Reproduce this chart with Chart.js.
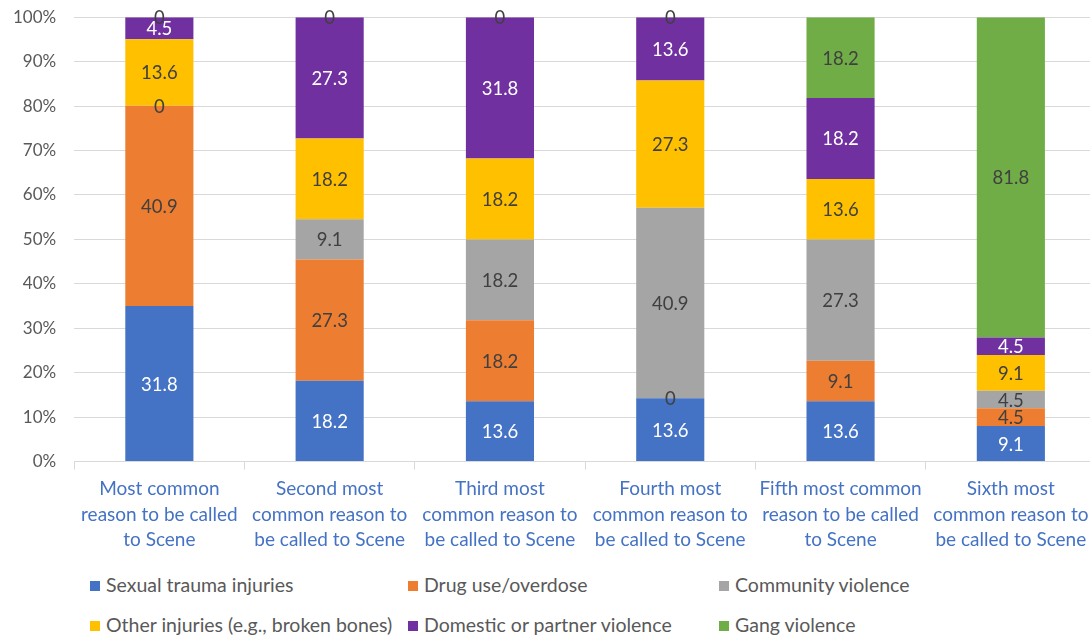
<!DOCTYPE html>
<html>
<head>
<meta charset="utf-8">
<script src="https://cdn.jsdelivr.net/npm/chart.js@4.4.1/dist/chart.umd.min.js"></script>
<style>
  html, body { margin: 0; padding: 0; background: #fff; overflow: hidden; }
  #wrap { position: relative; width: 1090px; height: 638px; overflow: hidden; }
  #chart { position: absolute; left: 0; top: -11px; }
  .legend { position: absolute; font-family: Lato, "Open Sans", sans-serif; font-size: 19.5px; color: #595959; white-space: nowrap; }
  .legend i { display: inline-block; width: 10px; height: 10px; margin-right: 6px; vertical-align: 1px; }
</style>
</head>
<body>
<div id="wrap">
  <canvas id="chart" width="1096" height="571"></canvas>
  <div id="legend-root"></div>
</div>
<script>
const categories = [
  ["Most common", "reason to be called", "to Scene"],
  ["Second most", "common reason to", "be called to Scene"],
  ["Third most", "common reason to", "be called to Scene"],
  ["Fourth most", "common reason to", "be called to Scene"],
  ["Fifth most common", "reason to be called", "to Scene"],
  ["Sixth most", "common reason to", "be called to Scene"],
];

const seriesNames = [
  "Sexual trauma injuries",
  "Drug use/overdose",
  "Community violence",
  "Other injuries (e.g., broken bones)",
  "Domestic or partner violence",
  "Gang violence",
];

const sexualTrauma = [31.8, 18.2, 13.6, 13.6, 13.6, 9.1];
const drugUse = [40.9, 27.3, 18.2, 0, 9.1, 4.5];
const communityViolence = [0, 9.1, 18.2, 40.9, 27.3, 4.5];
const otherInjuries = [13.6, 18.2, 18.2, 27.3, 13.6, 9.1];
const domesticViolence = [4.5, 27.3, 31.8, 13.6, 18.2, 4.5];
const gangViolence = [0, 0, 0, 0, 18.2, 81.8];

const yTicks = ["0%", "10%", "20%", "30%", "40%", "50%", "60%", "70%", "80%", "90%", "100%"];

const seriesValues = [sexualTrauma, drugUse, communityViolence, otherInjuries, domesticViolence, gangViolence];
const seriesColors = ["#4472C4", "#ED7D31", "#A5A5A5", "#FFC000", "#7030A0", "#70AD47"];
const labelColors = ["#ffffff", "#404040", "#404040", "#404040", "#ffffff", "#404040"];

const FONT = 'Lato, "Open Sans", sans-serif';

// 100% stacked: each column is scaled to its own total
const colTotals = categories.map((_, j) => seriesValues.reduce((s, arr) => s + arr[j], 0));

const valueLabels = {
  id: "valueLabels",
  afterDatasetsDraw(chart) {
    const ctx = chart.ctx;
    ctx.save();
    ctx.font = "18.5px " + FONT;
    ctx.textAlign = "center";
    ctx.textBaseline = "middle";
    chart.data.datasets.forEach((ds, i) => {
      const meta = chart.getDatasetMeta(i);
      meta.data.forEach((el, j) => {
        const y = (el.y + el.base) / 2;
        ctx.fillStyle = ds.raw[j] === 0 ? "#404040" : labelColors[i];
        ctx.fillText(String(ds.raw[j]), el.x, y + 1);
      });
    });
    ctx.restore();
  },
};

const datasets = seriesValues.map((vals, i) => ({
  label: seriesNames[i],
  data: vals.map((v, j) => (v / colTotals[j]) * 100),
  raw: vals,
  backgroundColor: seriesColors[i],
  borderWidth: 0,
  barPercentage: 0.4,
  categoryPercentage: 1,
  stack: "all",
}));

new Chart(document.getElementById("chart"), {
  type: "bar",
  data: { labels: categories, datasets },
  options: {
    responsive: false,
    animation: false,
    layout: { padding: { top: 0, right: 0, left: -5, bottom: 0 } },
    plugins: { legend: { display: false }, tooltip: { enabled: false } },
    scales: {
      x: {
        stacked: true,
        border: { color: "#d9d9d9", width: 1 },
        grid: { drawOnChartArea: false, drawTicks: true, tickLength: 8, offset: true, color: "#d9d9d9" },
        ticks: { color: "#4472C4", font: { family: FONT, size: 19, lineHeight: 1.34 }, padding: 7, maxRotation: 0, autoSkip: false },
      },
      y: {
        stacked: true,
        min: 0,
        max: 100,
        border: { display: false },
        grid: { color: "#d9d9d9", drawTicks: false },
        ticks: {
          stepSize: 10,
          padding: 18,
          color: "#595959",
          font: { family: FONT, size: 17 },
          callback: (v) => yTicks[Math.round(v / 10)],
        },
      },
    },
  },
  plugins: [valueLabels],
});

// legend in the same 3x2 grid as the original
const legendRoot = document.getElementById("legend-root");
const legendPos = [[90, 573], [408, 573], [719, 573], [90, 613], [408, 613], [719, 613]];
seriesNames.forEach((name, i) => {
  const d = document.createElement("div");
  d.className = "legend";
  d.style.left = legendPos[i][0] + "px";
  d.style.top = legendPos[i][1] + "px";
  d.innerHTML = `<i style="background:${seriesColors[i]}"></i>${name}`;
  legendRoot.appendChild(d);
});
</script>
</body>
</html>
